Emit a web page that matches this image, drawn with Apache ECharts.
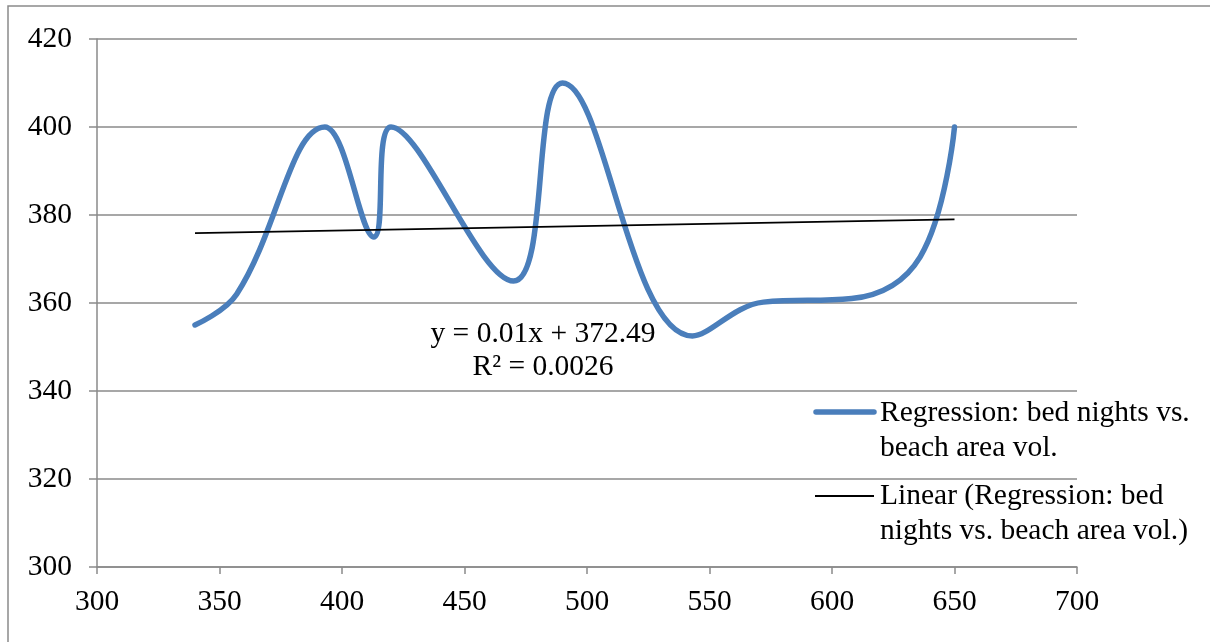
<!DOCTYPE html>
<html>
<head>
<meta charset="utf-8">
<title>Regression: bed nights vs. beach area vol.</title>
<script src="https://cdn.jsdelivr.net/npm/echarts@6/dist/echarts.min.js"></script>
<style>
  html, body { margin: 0; padding: 0; background: #ffffff; }
  #chart { width: 1210px; height: 642px; }
</style>
</head>
<body>
<div id="chart"></div>
<script>
// Observations: beach area volume (x) against bed nights (y)
const beachAreaVol = [340, 357, 393, 413, 420, 470, 490, 543, 572, 608, 636, 650];
const bedNights    = [355, 362, 400, 375, 400, 365, 410, 352.5, 360.2, 361, 370.5, 400];

// Linear trend reported for the series
const trendSlope = 0.01;
const trendIntercept = 372.49;
const trendR2 = 0.0026;

// Axis ranges and tick steps
const xTicks = { min: 300, max: 700, step: 50 };
const yTicks = { min: 300, max: 420, step: 20 };

const seriesName = 'Regression: bed nights vs. beach area vol.';
const trendName = 'Linear (Regression: bed nights vs. beach area vol.)';

const FONT = '"Liberation Serif", "Times New Roman", serif';
const GRID_GRAY = '#8a8a8a';
const BLUE = '#4a7ebb';

const observed = beachAreaVol.map((x, i) => [x, bedNights[i]]);
const xFirst = Math.min(...beachAreaVol);
const xLast = Math.max(...beachAreaVol);
const trendPoints = [xFirst, xLast].map(x => [x, trendSlope * x + trendIntercept]);

const chart = echarts.init(document.getElementById('chart'), null, { renderer: 'canvas' });

chart.setOption({
  animation: false,
  backgroundColor: '#ffffff',
  grid: { left: 97, right: 133, top: 39, bottom: 75, containLabel: false },
  xAxis: {
    type: 'value',
    min: xTicks.min, max: xTicks.max, interval: xTicks.step,
    axisLine: { show: true, lineStyle: { color: GRID_GRAY, width: 1.5 } },
    axisTick: { show: true, length: 7, lineStyle: { color: GRID_GRAY, width: 1.5 } },
    axisLabel: { color: '#000', fontFamily: FONT, fontSize: 29.5, margin: 20 },
    splitLine: { show: false }
  },
  yAxis: {
    type: 'value',
    min: yTicks.min, max: yTicks.max, interval: yTicks.step,
    axisLine: { show: true, lineStyle: { color: GRID_GRAY, width: 1.5 } },
    axisTick: { show: true, length: 8, lineStyle: { color: GRID_GRAY, width: 1.5 } },
    axisLabel: { color: '#000', fontFamily: FONT, fontSize: 29.5, margin: 25 },
    splitLine: { show: true, lineStyle: { color: GRID_GRAY, width: 1.5 } }
  },
  series: [
    {
      name: seriesName,
      type: 'line',
      data: observed,
      smooth: 0.4,
      showSymbol: false,
      symbol: 'none',
      lineStyle: { color: BLUE, width: 5.5, cap: 'round', join: 'round' },
      z: 3
    },
    {
      name: trendName,
      type: 'line',
      data: trendPoints,
      showSymbol: false,
      symbol: 'none',
      lineStyle: { color: '#000', width: 1.8 },
      z: 4
    }
  ],
  graphic: [
    // outer chart frame
    {
      type: 'rect', silent: true,
      shape: { x: 8, y: 6, width: 1300, height: 700 },
      style: { fill: 'none', stroke: GRID_GRAY, lineWidth: 1.5 }
    },
    // trend equation
    {
      type: 'text', silent: true, x: 543, y: 334,
      style: {
        text: 'y = ' + trendSlope + 'x + ' + trendIntercept,
        font: '29.5px ' + FONT, fill: '#000', align: 'center', verticalAlign: 'middle'
      }
    },
    {
      type: 'text', silent: true, x: 543, y: 367,
      style: {
        text: 'R² = ' + trendR2,
        font: '29.5px ' + FONT, fill: '#000', align: 'center', verticalAlign: 'middle'
      }
    },
    // legend
    {
      type: 'line', silent: true,
      shape: { x1: 816, y1: 412, x2: 874, y2: 412 },
      style: { stroke: BLUE, lineWidth: 5.5, lineCap: 'round' }
    },
    {
      type: 'text', silent: true, x: 880, y: 396,
      style: {
        text: 'Regression: bed nights vs.\nbeach area vol.',
        font: '29.5px ' + FONT, fill: '#000', lineHeight: 35,
        align: 'left', verticalAlign: 'top'
      }
    },
    {
      type: 'line', silent: true,
      shape: { x1: 815, y1: 496, x2: 874, y2: 496 },
      style: { stroke: '#000', lineWidth: 1.8 }
    },
    {
      type: 'text', silent: true, x: 880, y: 479,
      style: {
        text: 'Linear (Regression: bed\nnights vs. beach area vol.)',
        font: '29.5px ' + FONT, fill: '#000', lineHeight: 35,
        align: 'left', verticalAlign: 'top'
      }
    }
  ]
});
</script>
</body>
</html>
